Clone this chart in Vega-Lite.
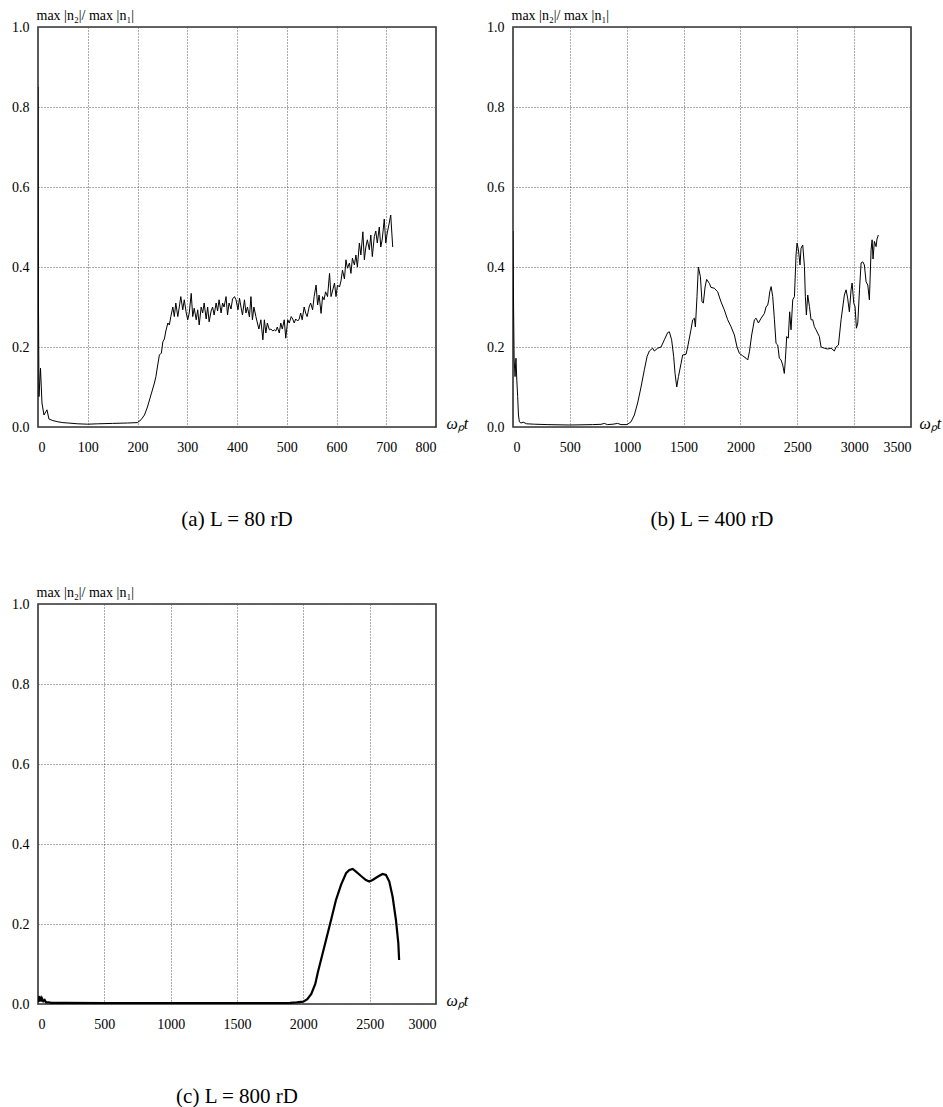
{
  "$schema": "https://vega.github.io/schema/vega-lite/v6.json",
  "background": "white",
  "padding": {"left": 10, "top": 7, "right": 0, "bottom": 0},
  "autosize": {"type": "pad"},
  "bounds": "flush",
  "columns": 2,
  "spacing": {"row": 177, "column": 77},
  "config": {
    "view": {"stroke": "#333", "strokeWidth": 1.6},
    "axis": {
      "labelFont": "Liberation Serif",
      "labelFontSize": 14,
      "labelColor": "black",
      "grid": true,
      "gridDash": [1, 2],
      "gridColor": "#555",
      "gridOpacity": 1,
      "ticks": false,
      "domain": false,
      "titleFont": "Liberation Serif",
      "titleFontWeight": "normal",
      "titleColor": "black"
    },
    "axisX": {"labelPadding": 13},
    "axisY": {"labelPadding": 9},
    "title": {"font": "Liberation Serif", "fontSize": 21, "fontWeight": "normal", "color": "black", "orient": "bottom", "anchor": "middle", "offset": 55}
  },
  "datasets": {
    "a": [
      {"t": 0, "v": 0.85}, {"t": 1, "v": 0.30}, {"t": 2, "v": 0.076}, {"t": 5, "v": 0.147}, {"t": 8, "v": 0.06},
      {"t": 12, "v": 0.03}, {"t": 18, "v": 0.043}, {"t": 22, "v": 0.02}, {"t": 30, "v": 0.016}, {"t": 40, "v": 0.013},
      {"t": 50, "v": 0.011}, {"t": 60, "v": 0.010}, {"t": 80, "v": 0.008}, {"t": 100, "v": 0.007}, {"t": 120, "v": 0.008},
      {"t": 150, "v": 0.009}, {"t": 180, "v": 0.010}, {"t": 200, "v": 0.011}, {"t": 207, "v": 0.018}, {"t": 214, "v": 0.03},
      {"t": 220, "v": 0.05}, {"t": 227, "v": 0.08}, {"t": 234, "v": 0.11}, {"t": 237, "v": 0.126}, {"t": 240, "v": 0.15},
      {"t": 244, "v": 0.18}, {"t": 248, "v": 0.185}, {"t": 251, "v": 0.213}, {"t": 254, "v": 0.22}, {"t": 257, "v": 0.24},
      {"t": 261, "v": 0.26}, {"t": 264, "v": 0.255}, {"t": 267, "v": 0.276}, {"t": 271, "v": 0.30}, {"t": 274, "v": 0.276},
      {"t": 277, "v": 0.31}, {"t": 281, "v": 0.276}, {"t": 284, "v": 0.30}, {"t": 287, "v": 0.326}, {"t": 291, "v": 0.293},
      {"t": 294, "v": 0.318}, {"t": 298, "v": 0.285}, {"t": 301, "v": 0.268}, {"t": 304, "v": 0.285}, {"t": 308, "v": 0.334},
      {"t": 311, "v": 0.276}, {"t": 314, "v": 0.297}, {"t": 318, "v": 0.268}, {"t": 321, "v": 0.293}, {"t": 324, "v": 0.255},
      {"t": 328, "v": 0.30}, {"t": 331, "v": 0.285}, {"t": 334, "v": 0.31}, {"t": 338, "v": 0.27}, {"t": 341, "v": 0.30},
      {"t": 344, "v": 0.263}, {"t": 348, "v": 0.29}, {"t": 351, "v": 0.30}, {"t": 354, "v": 0.28}, {"t": 358, "v": 0.31},
      {"t": 361, "v": 0.29}, {"t": 364, "v": 0.318}, {"t": 368, "v": 0.285}, {"t": 371, "v": 0.31}, {"t": 374, "v": 0.30},
      {"t": 378, "v": 0.326}, {"t": 381, "v": 0.28}, {"t": 384, "v": 0.31}, {"t": 388, "v": 0.295}, {"t": 391, "v": 0.32},
      {"t": 395, "v": 0.326}, {"t": 398, "v": 0.318}, {"t": 402, "v": 0.293}, {"t": 405, "v": 0.322}, {"t": 408, "v": 0.30},
      {"t": 411, "v": 0.28}, {"t": 415, "v": 0.318}, {"t": 418, "v": 0.285}, {"t": 421, "v": 0.30}, {"t": 425, "v": 0.275},
      {"t": 428, "v": 0.326}, {"t": 431, "v": 0.268}, {"t": 434, "v": 0.30}, {"t": 438, "v": 0.276}, {"t": 441, "v": 0.26},
      {"t": 444, "v": 0.245}, {"t": 448, "v": 0.268}, {"t": 452, "v": 0.218}, {"t": 455, "v": 0.268}, {"t": 458, "v": 0.235},
      {"t": 461, "v": 0.26}, {"t": 465, "v": 0.243}, {"t": 468, "v": 0.245}, {"t": 472, "v": 0.24}, {"t": 475, "v": 0.243},
      {"t": 478, "v": 0.24}, {"t": 481, "v": 0.25}, {"t": 485, "v": 0.235}, {"t": 488, "v": 0.26}, {"t": 491, "v": 0.245},
      {"t": 495, "v": 0.268}, {"t": 498, "v": 0.222}, {"t": 502, "v": 0.268}, {"t": 505, "v": 0.26}, {"t": 509, "v": 0.276},
      {"t": 512, "v": 0.27}, {"t": 515, "v": 0.26}, {"t": 518, "v": 0.27}, {"t": 522, "v": 0.265}, {"t": 525, "v": 0.27},
      {"t": 528, "v": 0.285}, {"t": 531, "v": 0.268}, {"t": 535, "v": 0.30}, {"t": 538, "v": 0.285}, {"t": 541, "v": 0.276},
      {"t": 545, "v": 0.30}, {"t": 548, "v": 0.31}, {"t": 552, "v": 0.293}, {"t": 555, "v": 0.326}, {"t": 559, "v": 0.355},
      {"t": 562, "v": 0.305}, {"t": 565, "v": 0.33}, {"t": 569, "v": 0.284}, {"t": 572, "v": 0.326}, {"t": 575, "v": 0.318},
      {"t": 578, "v": 0.338}, {"t": 582, "v": 0.326}, {"t": 586, "v": 0.384}, {"t": 589, "v": 0.326}, {"t": 592, "v": 0.34},
      {"t": 596, "v": 0.36}, {"t": 599, "v": 0.326}, {"t": 602, "v": 0.355}, {"t": 606, "v": 0.35}, {"t": 609, "v": 0.365},
      {"t": 612, "v": 0.392}, {"t": 616, "v": 0.37}, {"t": 619, "v": 0.418}, {"t": 622, "v": 0.397}, {"t": 626, "v": 0.41},
      {"t": 629, "v": 0.384}, {"t": 632, "v": 0.422}, {"t": 636, "v": 0.405}, {"t": 639, "v": 0.43}, {"t": 642, "v": 0.40},
      {"t": 646, "v": 0.46}, {"t": 649, "v": 0.43}, {"t": 653, "v": 0.488}, {"t": 656, "v": 0.418}, {"t": 659, "v": 0.45},
      {"t": 662, "v": 0.468}, {"t": 666, "v": 0.443}, {"t": 669, "v": 0.48}, {"t": 672, "v": 0.426}, {"t": 676, "v": 0.476},
      {"t": 679, "v": 0.49}, {"t": 682, "v": 0.46}, {"t": 686, "v": 0.5}, {"t": 689, "v": 0.45}, {"t": 692, "v": 0.47},
      {"t": 696, "v": 0.52}, {"t": 699, "v": 0.46}, {"t": 702, "v": 0.485}, {"t": 706, "v": 0.51}, {"t": 709, "v": 0.53},
      {"t": 713, "v": 0.45}
    ],
    "b": [
      {"t": 0, "v": 0.49}, {"t": 5, "v": 0.30}, {"t": 10, "v": 0.17}, {"t": 18, "v": 0.126}, {"t": 26, "v": 0.172},
      {"t": 33, "v": 0.12}, {"t": 41, "v": 0.076}, {"t": 48, "v": 0.03}, {"t": 56, "v": 0.013}, {"t": 70, "v": 0.01},
      {"t": 90, "v": 0.012}, {"t": 120, "v": 0.008}, {"t": 188, "v": 0.007}, {"t": 300, "v": 0.006}, {"t": 500, "v": 0.005},
      {"t": 700, "v": 0.006}, {"t": 774, "v": 0.0067}, {"t": 803, "v": 0.009}, {"t": 830, "v": 0.006}, {"t": 880, "v": 0.007},
      {"t": 920, "v": 0.009}, {"t": 950, "v": 0.006}, {"t": 1003, "v": 0.006}, {"t": 1038, "v": 0.013}, {"t": 1067, "v": 0.03},
      {"t": 1096, "v": 0.06}, {"t": 1126, "v": 0.10}, {"t": 1155, "v": 0.143}, {"t": 1179, "v": 0.176}, {"t": 1199, "v": 0.19},
      {"t": 1228, "v": 0.197}, {"t": 1243, "v": 0.19}, {"t": 1272, "v": 0.197}, {"t": 1302, "v": 0.2}, {"t": 1331, "v": 0.218},
      {"t": 1360, "v": 0.236}, {"t": 1375, "v": 0.238}, {"t": 1395, "v": 0.218}, {"t": 1413, "v": 0.176}, {"t": 1425, "v": 0.134},
      {"t": 1440, "v": 0.10}, {"t": 1455, "v": 0.126}, {"t": 1478, "v": 0.159}, {"t": 1492, "v": 0.18}, {"t": 1522, "v": 0.182},
      {"t": 1536, "v": 0.2}, {"t": 1565, "v": 0.243}, {"t": 1580, "v": 0.268}, {"t": 1595, "v": 0.272}, {"t": 1604, "v": 0.25},
      {"t": 1618, "v": 0.326}, {"t": 1630, "v": 0.40}, {"t": 1648, "v": 0.376}, {"t": 1662, "v": 0.313}, {"t": 1674, "v": 0.31},
      {"t": 1689, "v": 0.35}, {"t": 1703, "v": 0.369}, {"t": 1727, "v": 0.359}, {"t": 1741, "v": 0.349}, {"t": 1770, "v": 0.347},
      {"t": 1800, "v": 0.338}, {"t": 1829, "v": 0.313}, {"t": 1858, "v": 0.293}, {"t": 1888, "v": 0.268}, {"t": 1917, "v": 0.251},
      {"t": 1947, "v": 0.23}, {"t": 1970, "v": 0.2}, {"t": 1991, "v": 0.184}, {"t": 2020, "v": 0.178}, {"t": 2049, "v": 0.172},
      {"t": 2064, "v": 0.1675}, {"t": 2079, "v": 0.188}, {"t": 2099, "v": 0.23}, {"t": 2123, "v": 0.268}, {"t": 2138, "v": 0.272},
      {"t": 2158, "v": 0.26}, {"t": 2182, "v": 0.272}, {"t": 2211, "v": 0.284}, {"t": 2225, "v": 0.30}, {"t": 2240, "v": 0.305},
      {"t": 2249, "v": 0.318}, {"t": 2258, "v": 0.338}, {"t": 2270, "v": 0.351}, {"t": 2284, "v": 0.326}, {"t": 2299, "v": 0.268},
      {"t": 2313, "v": 0.209}, {"t": 2328, "v": 0.205}, {"t": 2342, "v": 0.172}, {"t": 2357, "v": 0.168}, {"t": 2372, "v": 0.155},
      {"t": 2386, "v": 0.134}, {"t": 2395, "v": 0.168}, {"t": 2407, "v": 0.226}, {"t": 2421, "v": 0.222}, {"t": 2433, "v": 0.288},
      {"t": 2445, "v": 0.243}, {"t": 2460, "v": 0.318}, {"t": 2475, "v": 0.326}, {"t": 2489, "v": 0.43}, {"t": 2498, "v": 0.46},
      {"t": 2510, "v": 0.443}, {"t": 2524, "v": 0.405}, {"t": 2533, "v": 0.447}, {"t": 2548, "v": 0.455}, {"t": 2563, "v": 0.401},
      {"t": 2571, "v": 0.326}, {"t": 2580, "v": 0.28}, {"t": 2592, "v": 0.33}, {"t": 2607, "v": 0.301}, {"t": 2621, "v": 0.268},
      {"t": 2636, "v": 0.268}, {"t": 2650, "v": 0.251}, {"t": 2665, "v": 0.243}, {"t": 2694, "v": 0.226}, {"t": 2709, "v": 0.2},
      {"t": 2738, "v": 0.197}, {"t": 2767, "v": 0.195}, {"t": 2797, "v": 0.197}, {"t": 2826, "v": 0.19}, {"t": 2841, "v": 0.2},
      {"t": 2862, "v": 0.205}, {"t": 2885, "v": 0.268}, {"t": 2914, "v": 0.33}, {"t": 2929, "v": 0.343}, {"t": 2943, "v": 0.322},
      {"t": 2958, "v": 0.288}, {"t": 2973, "v": 0.343}, {"t": 2982, "v": 0.36}, {"t": 2997, "v": 0.309}, {"t": 3008, "v": 0.301},
      {"t": 3020, "v": 0.247}, {"t": 3032, "v": 0.26}, {"t": 3047, "v": 0.343}, {"t": 3061, "v": 0.41}, {"t": 3076, "v": 0.413},
      {"t": 3090, "v": 0.405}, {"t": 3105, "v": 0.363}, {"t": 3120, "v": 0.355}, {"t": 3134, "v": 0.318}, {"t": 3149, "v": 0.443},
      {"t": 3158, "v": 0.468}, {"t": 3166, "v": 0.42}, {"t": 3178, "v": 0.464}, {"t": 3193, "v": 0.451}, {"t": 3201, "v": 0.47},
      {"t": 3213, "v": 0.48}
    ],
    "c": [
      {"t": 0, "v": 0.015}, {"t": 5, "v": 0.005}, {"t": 10, "v": 0.02}, {"t": 15, "v": 0.008}, {"t": 20, "v": 0.018},
      {"t": 25, "v": 0.006}, {"t": 30, "v": 0.014}, {"t": 40, "v": 0.007}, {"t": 50, "v": 0.01}, {"t": 60, "v": 0.004},
      {"t": 80, "v": 0.004}, {"t": 100, "v": 0.003}, {"t": 200, "v": 0.003}, {"t": 500, "v": 0.002}, {"t": 1000, "v": 0.002},
      {"t": 1500, "v": 0.002}, {"t": 1900, "v": 0.003}, {"t": 1950, "v": 0.004}, {"t": 2000, "v": 0.006}, {"t": 2030, "v": 0.012},
      {"t": 2060, "v": 0.025}, {"t": 2090, "v": 0.05}, {"t": 2110, "v": 0.08}, {"t": 2133, "v": 0.11}, {"t": 2171, "v": 0.16},
      {"t": 2209, "v": 0.21}, {"t": 2246, "v": 0.26}, {"t": 2284, "v": 0.298}, {"t": 2322, "v": 0.327}, {"t": 2347, "v": 0.335},
      {"t": 2372, "v": 0.3375}, {"t": 2397, "v": 0.331}, {"t": 2435, "v": 0.32}, {"t": 2472, "v": 0.31}, {"t": 2497, "v": 0.306},
      {"t": 2522, "v": 0.31}, {"t": 2560, "v": 0.318}, {"t": 2597, "v": 0.325}, {"t": 2623, "v": 0.3225}, {"t": 2648, "v": 0.306},
      {"t": 2673, "v": 0.268}, {"t": 2698, "v": 0.21}, {"t": 2716, "v": 0.152}, {"t": 2722, "v": 0.11}
    ]
  },
  "concat": [
    {
      "data": {"name": "a"},
      "width": 398,
      "height": 400,
      "title": {"text": "(a) L = 80 rD"},
      "mark": {"type": "line", "color": "black", "strokeWidth": 1, "clip": true},
      "encoding": {
        "x": {"field": "t", "type": "quantitative", "scale": {"domain": [0, 800], "nice": false},
          "axis": {"values": [0, 100, 200, 300, 400, 500, 600, 700, 800], "format": "d", "title": "ωₚt", "titleAngle": 0, "titleX": 408, "titleY": -4, "titleAlign": "left", "titleBaseline": "middle", "titleFontSize": 16, "titleFontStyle": "italic"}},
        "y": {"field": "v", "type": "quantitative", "scale": {"domain": [0, 1], "nice": false},
          "axis": {"values": [0, 0.2, 0.4, 0.6, 0.8, 1.0], "format": ".1f", "title": "max |n₂|/ max |n₁|", "titleAngle": 0, "titleX": -2, "titleY": -5, "titleAlign": "left", "titleBaseline": "bottom", "titleFontSize": 14}}
      }
    },
    {
      "data": {"name": "b"},
      "width": 398,
      "height": 400,
      "title": {"text": "(b) L = 400 rD"},
      "mark": {"type": "line", "color": "black", "strokeWidth": 1, "clip": true},
      "encoding": {
        "x": {"field": "t", "type": "quantitative", "scale": {"domain": [0, 3500], "nice": false},
          "axis": {"values": [0, 500, 1000, 1500, 2000, 2500, 3000, 3500], "format": "d", "title": "ωₚt", "titleAngle": 0, "titleX": 406, "titleY": -4, "titleAlign": "left", "titleBaseline": "middle", "titleFontSize": 16, "titleFontStyle": "italic"}},
        "y": {"field": "v", "type": "quantitative", "scale": {"domain": [0, 1], "nice": false},
          "axis": {"values": [0, 0.2, 0.4, 0.6, 0.8, 1.0], "format": ".1f", "title": "max |n₂|/ max |n₁|", "titleAngle": 0, "titleX": -2, "titleY": -5, "titleAlign": "left", "titleBaseline": "bottom", "titleFontSize": 14}}
      }
    },
    {
      "data": {"name": "c"},
      "width": 398,
      "height": 400,
      "title": {"text": "(c) L = 800 rD"},
      "mark": {"type": "line", "color": "black", "strokeWidth": 2.2, "clip": true},
      "encoding": {
        "x": {"field": "t", "type": "quantitative", "scale": {"domain": [0, 3000], "nice": false},
          "axis": {"values": [0, 500, 1000, 1500, 2000, 2500, 3000], "format": "d", "title": "ωₚt", "titleAngle": 0, "titleX": 408, "titleY": -4, "titleAlign": "left", "titleBaseline": "middle", "titleFontSize": 16, "titleFontStyle": "italic"}},
        "y": {"field": "v", "type": "quantitative", "scale": {"domain": [0, 1], "nice": false},
          "axis": {"values": [0, 0.2, 0.4, 0.6, 0.8, 1.0], "format": ".1f", "title": "max |n₂|/ max |n₁|", "titleAngle": 0, "titleX": -2, "titleY": -5, "titleAlign": "left", "titleBaseline": "bottom", "titleFontSize": 14}}
      }
    }
  ]
}
